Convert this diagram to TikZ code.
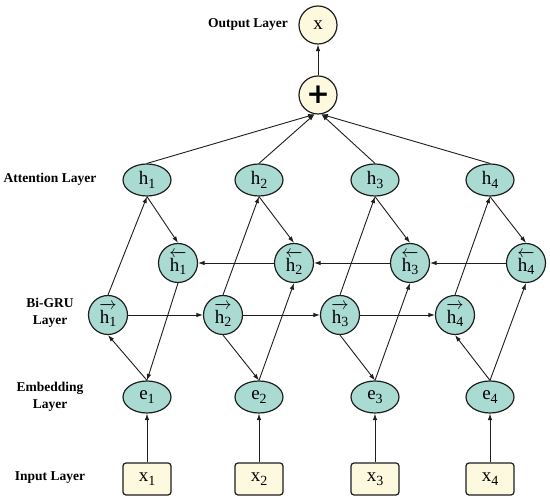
\documentclass[tikz,border=0pt]{standalone}
\usepackage{fontspec}
\setmainfont{Liberation Serif}
\newfontfamily\plusfont{DejaVu Sans}
\usetikzlibrary{arrows.meta,shapes.geometric}
\definecolor{tealc}{RGB}{170,219,210}
\definecolor{yelc}{RGB}{253,249,222}
\definecolor{edgec}{RGB}{30,30,30}
\tikzset{
  nodefont/.style={font=\fontsize{19}{21}\selectfont},
  ellnode/.style={ellipse, draw=edgec, fill=tealc, line width=1.2pt, minimum width=48pt, minimum height=32pt, inner sep=0pt, nodefont},
  circnode/.style={circle, draw=edgec, fill=tealc, line width=1.2pt, minimum size=39pt, inner sep=0pt, nodefont},
  ybox/.style={rectangle, rounded corners=3pt, draw=edgec, fill=yelc, line width=1.2pt, minimum width=48pt, minimum height=32pt, inner sep=0pt, nodefont},
  ycirc/.style={circle, draw=edgec, fill=yelc, line width=1.2pt, minimum size=38pt, inner sep=0pt, nodefont},
  lab/.style={font=\bfseries\fontsize{13.5}{17}\selectfont, align=center},
  arr/.style={-{Latex[length=6.5pt,width=4.5pt]}, line width=0.9pt, draw=edgec}
}
\newcommand{\subn}[1]{\raisebox{-3.5pt}{\fontsize{14}{14}\selectfont #1}}
\newcommand{\vh}[1]{h\subn{#1}}
\newcommand{\fwh}[1]{$\overrightarrow{\hbox{\rule{0pt}{15pt}\vh{#1}}}$}
\newcommand{\bwh}[1]{$\overleftarrow{\hbox{\rule{0pt}{15pt}\vh{#1}}}$}
\begin{document}
\begin{tikzpicture}[x=1pt,y=-1pt]
\useasboundingbox (0,0) rectangle (550,502);
\fill[white] (0,0) rectangle (550,502);
% labels
\node[lab] (lout) at (248,24) {Output Layer};
\node[lab] (latt) at (50,179) {Attention Layer};
\node[lab] (lgru) at (50,313) {Bi-GRU\\Layer};
\node[lab] (lemb) at (50,397) {Embedding\\Layer};
\node[lab] (lin) at (50,478) {Input Layer};
% top
\node[ycirc] (out) at (318,25) {x};
\node[ycirc] (plus) at (318,95) {\plusfont\bfseries\fontsize{28}{28}\selectfont +};
% attention
\node[ellnode] (a1) at (147,180) {\vh{1}};
\node[ellnode] (a2) at (259,180) {\vh{2}};
\node[ellnode] (a3) at (375,180) {\vh{3}};
\node[ellnode] (a4) at (490,180) {\vh{4}};
% backward
\node[circnode] (b1) at (178,263) {\bwh{1}};
\node[circnode] (b2) at (294,263) {\bwh{2}};
\node[circnode] (b3) at (410,263) {\bwh{3}};
\node[circnode] (b4) at (526,263) {\bwh{4}};
% forward
\node[circnode] (f1) at (108,315) {\fwh{1}};
\node[circnode] (f2) at (223,315) {\fwh{2}};
\node[circnode] (f3) at (340,315) {\fwh{3}};
\node[circnode] (f4) at (455,315) {\fwh{4}};
% embedding
\node[ellnode] (e1) at (147,397) {e\subn{1}};
\node[ellnode] (e2) at (259,397) {e\subn{2}};
\node[ellnode] (e3) at (375,397) {e\subn{3}};
\node[ellnode] (e4) at (490,397) {e\subn{4}};
% input
\node[ybox] (x1) at (147,479) {x\subn{1}};
\node[ybox] (x2) at (259,479) {x\subn{2}};
\node[ybox] (x3) at (375,479) {x\subn{3}};
\node[ybox] (x4) at (490,479) {x\subn{4}};
% input to embedding
\foreach \i in {1,...,4} \draw[arr] (x\i.north) -- (e\i.south);
% embedding to GRU
\draw[arr] (e1.north) -- (f1.south);
\draw[arr] (b1.south) -- (e1.north);
\draw[arr] (f2.south) -- (e2.north);
\draw[arr] (e2.north) -- (b2.south);
\draw[arr] (f3.south) -- (e3.north);
\draw[arr] (e3.north) -- (b3.south);
\draw[arr] (e4.north) -- (f4.south);
\draw[arr] (e4.north) -- (b4.south);
% horizontal
\draw[arr] (f1.east) -- (f2.west);
\draw[arr] (f2.east) -- (f3.west);
\draw[arr] (f3.east) -- (f4.west);
\draw[arr] (b4.west) -- (b3.east);
\draw[arr] (b3.west) -- (b2.east);
\draw[arr] (b2.west) -- (b1.east);
% GRU to attention
\foreach \i in {1,...,4} {
  \draw[arr] (f\i.north) -- (a\i.south);
  \draw[arr] (a\i.south) -- (b\i.north);
}
% attention to plus
\draw[arr] (a1.north) -- (plus.-100);
\draw[arr] (a2.north) -- (plus.-100);
\draw[arr] (a3.north) -- (plus.-80);
\draw[arr] (a4.north) -- (plus.-80);
\draw[arr] (plus.north) -- (out.south);
\end{tikzpicture}
\end{document}
